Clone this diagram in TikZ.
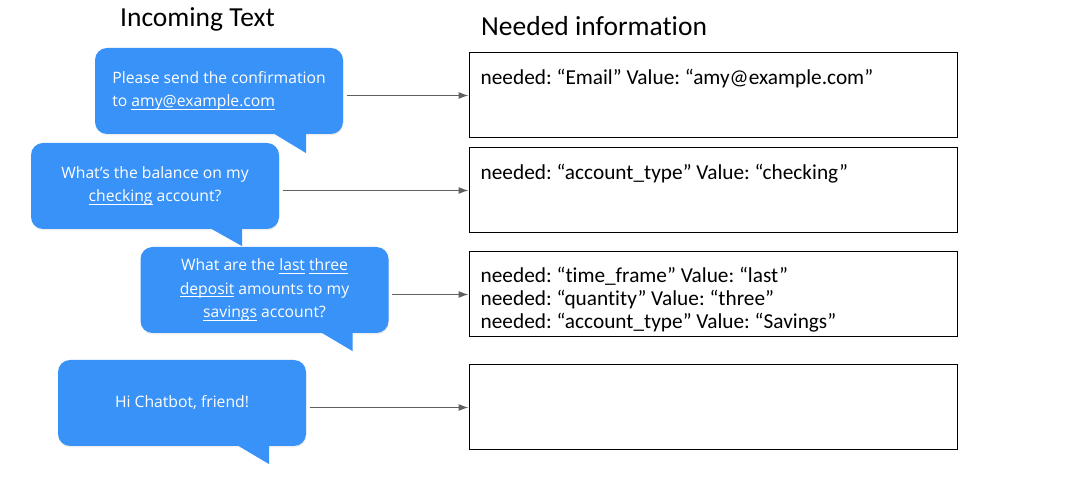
\documentclass[tikz,border=0pt]{standalone}
\usepackage{fontspec}
\setmainfont[Ligatures=NoCommon]{Carlito}
\newfontfamily\bubblefont{Open Sans}
\usepackage{xcolor}
\usetikzlibrary{arrows.meta}
\usetikzlibrary{shadows}
\newcommand{\undr}[1]{\setbox0\hbox{#1}\rlap{\rule[-3pt]{\wd0}{0.9pt}}\box0\relax}
\frenchspacing

\begin{document}
\begin{tikzpicture}[x=1pt,y=1pt,
  bubble/.style={fill=bubbleColor,rounded corners=12pt,minimum width=248pt,minimum height=86pt,inner sep=0pt,text=white,align=center,font=\bubblefont\fontsize{15.7}{23.5}\selectfont,drop shadow={opacity=0.12,shadow xshift=0.5pt,shadow yshift=-1.5pt}},
  tail/.style={fill=bubbleColor},
  infobox/.style={draw=black,line width=1pt,minimum width=488pt,minimum height=85pt,inner sep=0pt},
  info/.style={anchor=base west,inner sep=0pt,font=\fontsize{21.3}{23}\selectfont},
  heading/.style={anchor=base west,inner sep=0pt,font=\fontsize{27.5}{30}\selectfont},
  flow/.style={draw=arrowColor,line width=1.1pt,shorten <=3.5pt,-{Latex[length=10pt,width=7pt]}}]
\definecolor{fillColor}{RGB}{255,255,255}
\definecolor{bubbleColor}{RGB}{57,146,247}
\definecolor{arrowColor}{RGB}{96,96,96}
\path[use as bounding box,fill=fillColor] (0,0) rectangle (1073,487);

% headings
\node[heading] (inTitle) at (120,460) {Incoming Text};
\node[heading] (needTitle) at (481,451) {Needed information};

% incoming text bubbles
\node[bubble,align=left] (q1) at (219,396) {Please send the confirmation\\to \undr{amy@example.com}};
\fill[tail] ([xshift=-70pt,yshift=1pt]q1.south east) -- ([xshift=-37pt,yshift=-19pt]q1.south east) -- ([xshift=-37pt,yshift=1pt]q1.south east) -- cycle;

\node[bubble] (q2) at (155,301) {What’s the balance on my\\\undr{checking} account?};
\fill[tail] ([xshift=-69pt,yshift=1pt]q2.south east) -- ([xshift=-37pt,yshift=-17pt]q2.south east) -- ([xshift=-37pt,yshift=1pt]q2.south east) -- cycle;

\node[bubble] (q3) at (264.5,197) {What are the \undr{last} \undr{three}\\\undr{deposit} amounts to my\\\undr{savings} account?};
\fill[tail] ([xshift=-68pt,yshift=1pt]q3.south east) -- ([xshift=-36pt,yshift=-18pt]q3.south east) -- ([xshift=-36pt,yshift=1pt]q3.south east) -- cycle;

\node[bubble] (q4) at (182,84) {Hi Chatbot, friend!};
\fill[tail] ([xshift=-69pt,yshift=1pt]q4.south east) -- ([xshift=-37pt,yshift=-18pt]q4.south east) -- ([xshift=-37pt,yshift=1pt]q4.south east) -- cycle;

% needed information boxes
\node[infobox] (b1) at (713,391.5) {};
\node[infobox] (b2) at (713,296.5) {};
\node[infobox] (b3) at (713,192.5) {};
\node[infobox] (b4) at (713,79.5) {};

\node[info] (t1) at ([shift={(12pt,-32pt)}]b1.north west) {needed: “Email” Value: “amy@example.com”};
\node[info] (t2) at ([shift={(12pt,-32pt)}]b2.north west) {needed: “account\_type” Value: “checking”};
\node[info] (t3a) at ([shift={(12pt,-31pt)}]b3.north west) {needed: “time\_frame” Value: “last”};
\node[info] (t3b) at ([shift={(12pt,-54pt)}]b3.north west) {needed: “quantity” Value: “three”};
\node[info] (t3c) at ([shift={(12pt,-77pt)}]b3.north west) {needed: “account\_type” Value: “Savings”};

% arrows
\draw[flow] (q1.east |- b1.west) -- (b1.west);
\draw[flow] (q2.east |- b2.west) -- (b2.west);
\draw[flow] (q3.east |- b3.west) -- (b3.west);
\draw[flow] (q4.east |- b4.west) -- (b4.west);
\end{tikzpicture}
\end{document}
